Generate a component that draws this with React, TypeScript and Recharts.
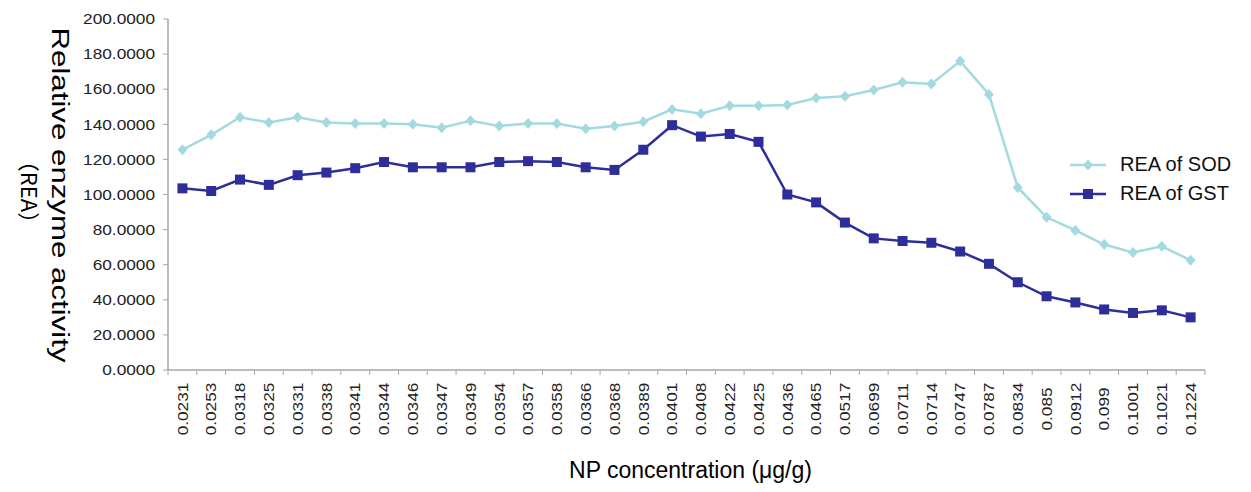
import React from "react";
import { LineChart, Line, XAxis, YAxis } from "recharts";

// NP concentration categories (µg/g)
const categories = [
  "0.0231", "0.0253", "0.0318", "0.0325", "0.0331", "0.0338", "0.0341", "0.0344",
  "0.0346", "0.0347", "0.0349", "0.0354", "0.0357", "0.0358", "0.0366", "0.0368",
  "0.0389", "0.0401", "0.0408", "0.0422", "0.0425", "0.0436", "0.0465", "0.0517",
  "0.0699", "0.0711", "0.0714", "0.0747", "0.0787", "0.0834", "0.085", "0.0912",
  "0.099", "0.1001", "0.1021", "0.1224",
];

const sodValues = [
  125.5, 134, 144, 141, 144, 141, 140.5, 140.5, 140, 138, 142, 139, 140.5, 140.5,
  137.5, 139, 141.5, 148.5, 146, 150.5, 150.5, 151, 155, 156, 159.5, 164, 163,
  176, 157, 104, 87, 79.5, 71.5, 67, 70.5, 62.5,
];

const gstValues = [
  103.5, 102, 108.5, 105.5, 111, 112.5, 115, 118.5, 115.5, 115.5, 115.5, 118.5,
  119, 118.5, 115.5, 114, 125.5, 139.5, 133, 134.5, 130, 100, 95.5, 84, 75, 73.5,
  72.5, 67.5, 60.5, 50, 42, 38.5, 34.5, 32.5, 34, 30,
];

const yTicks = [0, 20, 40, 60, 80, 100, 120, 140, 160, 180, 200];

const data = categories.map((name, i) => ({
  name,
  sod: sodValues[i],
  gst: gstValues[i],
}));

const W = 1251;
const H = 492;
const LEFT = 168;
const RIGHT = 46;
const PLOT_W = W - LEFT - RIGHT;
const HALF = PLOT_W / categories.length / 2;

const SOD_COLOR = "#a3dadf";
const GST_COLOR = "#2e2e9b";
const AXIS_COLOR = "#a6a6a6";
const FONT = "'Liberation Sans', Arial, sans-serif";
const CJK_FONT = "'Noto Sans CJK SC', 'Liberation Sans', sans-serif";

const Diamond = (props: any) => {
  const { cx, cy, fill } = props;
  if (cx == null || cy == null) return null;
  return <path d={`M${cx},${cy - 5.5} L${cx + 5},${cy} L${cx},${cy + 5.5} L${cx - 5},${cy} Z`} fill={fill} />;
};

const Square = (props: any) => {
  const { cx, cy, fill } = props;
  if (cx == null || cy == null) return null;
  return <rect x={cx - 5} y={cy - 5} width={10} height={10} fill={fill} />;
};

const XTick = (props: any) => {
  const { x, y, payload, index } = props;
  const last = index === categories.length - 1;
  return (
    <g>
      <line x1={x - HALF} x2={x - HALF} y1={y} y2={y + 5} stroke={AXIS_COLOR} />
      {last && <line x1={x + HALF} x2={x + HALF} y1={y} y2={y + 5} stroke={AXIS_COLOR} />}
      <g transform={`translate(${x},${y + 39})`}>
        <text transform="rotate(-90) scale(1.15,1)" textAnchor="middle" dy="0.35em" fontSize={15} fill="#222" fontFamily={FONT}>
          {payload.value}
        </text>
      </g>
    </g>
  );
};

const YTick = (props: any) => {
  const { x, y, payload } = props;
  return (
    <g transform={`translate(${x},${y})`}>
      <text transform="scale(1.15,1)" textAnchor="end" dy="0.35em" fontSize={15} fill="#222" fontFamily={FONT}>
        {Number(payload.value).toFixed(4)}
      </text>
    </g>
  );
};

const YTitle = () => {
  const cy = 195;
  return (
    <g fill="#000">
      <text x={60} y={cy} transform={`rotate(90, 60, ${cy})`} textAnchor="middle" dominantBaseline="central" fontSize={23} fontFamily={FONT} textLength={335} lengthAdjust="spacingAndGlyphs">
        Relative enzyme activity
      </text>
      <text x={31} y={192} transform={`rotate(90, 31, 192)`} textAnchor="middle" dominantBaseline="central" fontSize={22} fontFamily={CJK_FONT}>
        （REA）
      </text>
    </g>
  );
};

const XTitle = (props: any) => {
  const { viewBox } = props;
  const cx = viewBox ? viewBox.x + viewBox.width / 2 + 4 : 690;
  return (
    <text x={cx} y={470} textAnchor="middle" dominantBaseline="central" fontSize={23} fill="#000" fontFamily={FONT}>
      NP concentration (μg/g)
    </text>
  );
};

const legendItems = [
  { label: "REA of SOD", color: SOD_COLOR, shape: "diamond" },
  { label: "REA of GST", color: GST_COLOR, shape: "square" },
];

const App: React.FC = () => {
  return (
    <div style={{ position: "absolute", left: 0, top: 0, width: W, height: H, background: "#fff", fontFamily: FONT }}>
      <LineChart width={W} height={H} data={data} margin={{ top: 19, right: RIGHT, left: 0, bottom: 0 }}>
        <XAxis
          dataKey="name"
          interval={0}
          height={122}
          padding={{ left: HALF, right: HALF }}
          tickLine={false}
          tickSize={0}
          tickMargin={0}
          axisLine={{ stroke: AXIS_COLOR, strokeWidth: 1.5 }}
          tick={<XTick />}
          label={<XTitle />}
        />
        <YAxis
          width={LEFT}
          domain={[0, 200]}
          ticks={yTicks}
          interval={0}
          tickSize={5}
          tickMargin={8}
          tickLine={{ stroke: AXIS_COLOR }}
          axisLine={{ stroke: AXIS_COLOR, strokeWidth: 1.5 }}
          tick={<YTick />}
          label={<YTitle />}
        />
        <Line
          dataKey="sod"
          stroke={SOD_COLOR}
          strokeWidth={2.5}
          dot={<Diamond fill={SOD_COLOR} />}
          activeDot={false}
          isAnimationActive={false}
        />
        <Line
          dataKey="gst"
          stroke={GST_COLOR}
          strokeWidth={2.5}
          dot={<Square fill={GST_COLOR} />}
          activeDot={false}
          isAnimationActive={false}
        />
      </LineChart>
      <div style={{ position: "absolute", left: 1068, top: 150 }}>
        {legendItems.map((it) => (
          <div key={it.label} style={{ display: "flex", alignItems: "center", height: 29 }}>
            <svg width={40} height={16}>
              <line x1={2} x2={38} y1={8} y2={8} stroke={it.color} strokeWidth={2.5} />
              {it.shape === "diamond" ? (
                <path d="M20,2.5 L25,8 L20,13.5 L15,8 Z" fill={it.color} />
              ) : (
                <rect x={15} y={3} width={10} height={10} fill={it.color} />
              )}
            </svg>
            <span style={{ marginLeft: 12, fontSize: 20, color: "#111" }}>{it.label}</span>
          </div>
        ))}
      </div>
    </div>
  );
};

export default App;
